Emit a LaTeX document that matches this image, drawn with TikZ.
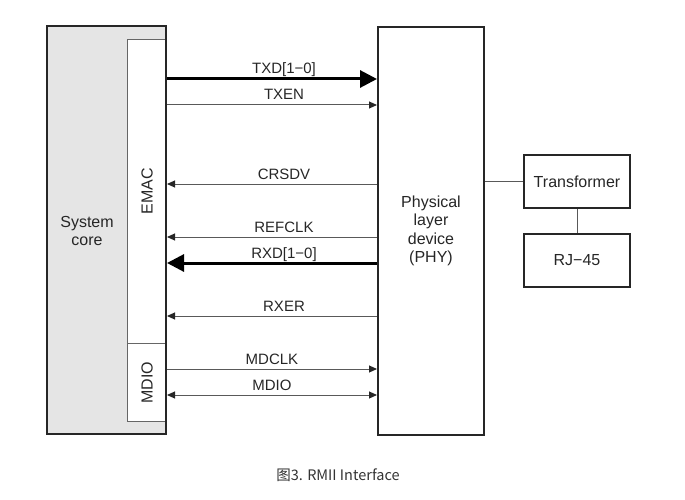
\documentclass[tikz,border=0pt]{standalone}
\usepackage{fontspec}
\setmainfont{Liberation Sans}
\newfontfamily\cjkfont{Noto Sans CJK SC}
\usetikzlibrary{positioning, calc, arrows.meta}

\begin{document}
\begin{tikzpicture}[
  x=1pt, y=-1pt,
  >={Triangle[length=8pt, width=7pt, color=black!85]},
  box/.style  = {draw=black!85, line width=2pt, rectangle, anchor=north west, inner sep=0pt},
  sub/.style  = {draw=black!60, line width=1pt, fill=white, rectangle, anchor=north west, inner sep=0pt},
  sig/.style  = {draw=black!65, line width=1pt},
  bus/.style  = {draw=black, line width=3pt, -{Triangle[length=17pt, width=17pt]}},
  lbl/.style  = {font=\fontsize{15}{18}\selectfont, text=black!85, anchor=base, yshift=5pt, xshift=12pt, inner sep=0pt},
  txt/.style  = {font=\fontsize{16}{18.5}\selectfont, text=black!85, align=center},
]
  \useasboundingbox (0,0) rectangle (685,500);

  % system core with EMAC and MDIO blocks
  \node[fill=black!10, rectangle, anchor=north west, inner sep=0pt,
        minimum width=119pt, minimum height=408pt]       (core) at (47,26) {};
  \node[sub, minimum width=39pt, minimum height=304pt]  (emac) at (127,39) {};
  \node[sub, minimum width=39pt, minimum height=78pt]   (mdio) at (127,343) {};
  \draw[draw=black!85, line width=2pt] (core.north west) rectangle (core.south east);

  \node[txt] at (87,231) {System\\core};
  \node[txt, rotate=90] at (emac.center) {EMAC};
  \node[txt, rotate=90] at (mdio.center) {MDIO};

  % PHY and line side
  \node[box, minimum width=106pt, minimum height=408pt] (phy)  at (377,26) {};
  \node[txt] at (phy.center) {Physical\\layer\\device\\(PHY)};
  \node[box, minimum width=106pt, minimum height=53pt, txt, anchor=north west] (xfmr) at (523,154) {Transformer};
  \node[box, minimum width=106pt, minimum height=53pt, txt, anchor=north west] (rj)   at (523,233) {RJ−45};

  \draw[sig] (phy.east |- xfmr.west) -- (xfmr.west);
  \draw[sig] (xfmr.south) -- (rj.north);

  % signal rows
  \coordinate (txd)    at (0,79);
  \coordinate (txen)   at (0,105);
  \coordinate (crsdv)  at (0,184);
  \coordinate (refclk) at (0,237);
  \coordinate (rxd)    at (0,263);
  \coordinate (rxer)   at (0,316);
  \coordinate (mdclk)  at (0,369);
  \coordinate (mdion)  at (0,395);

  \draw[bus]      (emac.east |- txd)    -- node[lbl]{TXD[1−0]} (phy.west |- txd);
  \draw[sig, ->]  (emac.east |- txen)   -- node[lbl]{TXEN}     (phy.west |- txen);
  \draw[sig, <-]  (emac.east |- crsdv)  -- node[lbl]{CRSDV}    (phy.west |- crsdv);
  \draw[sig, <-]  (emac.east |- refclk) -- node[lbl]{REFCLK}   (phy.west |- refclk);
  \draw[bus]      (phy.west |- rxd)     -- node[lbl]{RXD[1−0]} (emac.east |- rxd);
  \draw[sig, <-]  (emac.east |- rxer)   -- node[lbl]{RXER}     (phy.west |- rxer);
  \draw[sig, ->]  (mdio.east |- mdclk)  -- node[lbl, xshift=-12pt]{MDCLK} (phy.west |- mdclk);
  \draw[sig, <->] (mdio.east |- mdion)  -- node[lbl, xshift=-12pt]{MDIO}  (phy.west |- mdion);

  % caption
  \node[font=\cjkfont\fontsize{14.5}{16}\selectfont, text=black!80] (cap) at (338,475) {图3. RMII Interface};
\end{tikzpicture}
\end{document}
